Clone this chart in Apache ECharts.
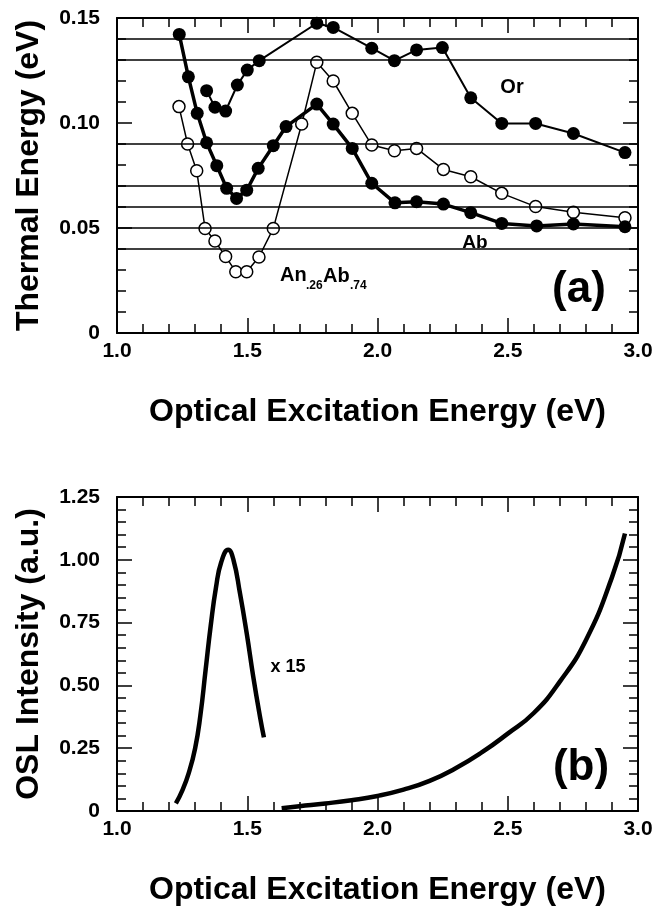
<!DOCTYPE html>
<html>
<head>
<meta charset="utf-8">
<script src="https://cdn.jsdelivr.net/npm/echarts@6/dist/echarts.min.js"></script>
<style>
  html, body { margin: 0; padding: 0; background: #fff; }
  #chart { width: 657px; height: 911px; }
</style>
</head>
<body>
<div id="chart"></div>
<script>
// thermal energy levels drawn as horizontal lines in panel (a)
const levels = [0.138, 0.129, 0.093, 0.0735, 0.061, 0.0495, 0.037];

// panel (a): [optical energy, thermal energy]
const orPoints = [[1.344, 0.1154], [1.376, 0.1075], [1.417, 0.1057], [1.462, 0.1181], [1.500, 0.1252],
  [1.546, 0.1297], [1.767, 0.1475], [1.830, 0.1455], [1.978, 0.1356], [2.065, 0.1297], [2.150, 0.1348],
  [2.249, 0.1359], [2.358, 0.112], [2.477, 0.0998], [2.607, 0.0998], [2.752, 0.095], [2.950, 0.0859]];

const abPoints = [[1.239, 0.1422], [1.274, 0.122], [1.308, 0.1046], [1.344, 0.0906], [1.383, 0.0797],
  [1.421, 0.0689], [1.459, 0.0641], [1.498, 0.068], [1.542, 0.0784], [1.600, 0.0892], [1.649, 0.0983],
  [1.767, 0.109], [1.830, 0.0995], [1.903, 0.0879], [1.978, 0.0713], [2.067, 0.062], [2.150, 0.0625],
  [2.253, 0.0614], [2.358, 0.0573], [2.477, 0.0522], [2.611, 0.051], [2.752, 0.0519], [2.950, 0.0506]];

const anPoints = [[1.238, 0.1078], [1.271, 0.09], [1.306, 0.0773], [1.338, 0.0498], [1.376, 0.0438],
  [1.417, 0.0364], [1.456, 0.0292], [1.498, 0.0292], [1.545, 0.0362], [1.600, 0.0498], [1.709, 0.0995],
  [1.767, 0.1289], [1.830, 0.12], [1.903, 0.1046], [1.978, 0.0895], [2.065, 0.0868], [2.150, 0.0879],
  [2.253, 0.0779], [2.358, 0.0744], [2.477, 0.0665], [2.607, 0.0602], [2.752, 0.0575], [2.950, 0.0549]];

// panel (b): OSL spectra
const oslPeak = [[1.226, 0.03], [1.25, 0.08], [1.275, 0.15], [1.30, 0.25], [1.32, 0.38], [1.34, 0.56],
  [1.36, 0.74], [1.38, 0.89], [1.40, 0.99], [1.427, 1.04], [1.447, 1.0], [1.472, 0.867],
  [1.498, 0.707], [1.523, 0.535], [1.549, 0.375], [1.564, 0.293]];

const oslTail = [[1.632, 0.011], [1.70, 0.019], [1.80, 0.03], [1.90, 0.043], [2.0, 0.06], [2.1, 0.085],
  [2.2, 0.12], [2.3, 0.17], [2.4, 0.233], [2.5, 0.308], [2.6, 0.39], [2.7, 0.515],
  [2.8, 0.68], [2.9, 0.93], [2.950, 1.105]];

const xTicks = [1.0, 3.0, 0.5];
const font = 'Liberation Sans, Arial, Helvetica, sans-serif';

const chart = echarts.init(document.getElementById('chart'), null, { renderer: 'canvas' });

const black = '#000';

function xAxisOf(grid, position, showLabel, name) {
  return {
    type: 'value', gridIndex: grid, position: position,
    min: xTicks[0], max: xTicks[1], interval: xTicks[2],
    name: name || '', nameLocation: 'middle', nameGap: 63,
    nameTextStyle: { fontFamily: font, fontWeight: 'bold', fontSize: 32, color: black },
    axisLine: { show: true, onZero: false, lineStyle: { color: black, width: 2 } },
    axisTick: { show: true, inside: true, length: 15, lineStyle: { color: black, width: 1.5 } },
    minorTick: { show: true, splitNumber: 5, length: 9, lineStyle: { color: black, width: 1.5 } },
    axisLabel: {
      show: showLabel, margin: 8, color: black, fontFamily: font, fontWeight: 'bold', fontSize: 21,
      formatter: v => v.toFixed(1)
    },
    splitLine: { show: false }
  };
}

function yAxisOf(grid, position, showLabel, max, interval, name) {
  return {
    type: 'value', gridIndex: grid, position: position,
    min: 0, max: max, interval: interval,
    name: name || '', nameLocation: 'middle', nameGap: 72,
    nameTextStyle: { fontFamily: font, fontWeight: 'bold', fontSize: 32, color: black },
    axisLine: { show: true, onZero: false, lineStyle: { color: black, width: 2 } },
    axisTick: { show: true, inside: true, length: 15, lineStyle: { color: black, width: 1.5 } },
    minorTick: { show: true, splitNumber: 5, length: 9, lineStyle: { color: black, width: 1.5 } },
    axisLabel: {
      show: showLabel, margin: 17, color: black, fontFamily: font, fontWeight: 'bold', fontSize: 21,
      formatter: v => (v === 0 ? '0' : v.toFixed(2))
    },
    splitLine: { show: false }
  };
}

function label(text, x, y, size) {
  return {
    type: 'text', x: x, y: y, z: 100,
    style: {
      text: text, fill: black, font: 'bold ' + size + 'px ' + font,
      textAlign: 'center', textVerticalAlign: 'middle', align: 'center', verticalAlign: 'middle'
    }
  };
}

const option = {
  backgroundColor: '#fff',
  animation: false,
  grid: [
    { left: 117, right: 19, top: 18, height: 315 },
    { left: 117, right: 19, top: 497, height: 314 }
  ],
  xAxis: [
    xAxisOf(0, 'bottom', true, 'Optical Excitation Energy (eV)'),
    xAxisOf(0, 'top', false),
    xAxisOf(1, 'bottom', true, 'Optical Excitation Energy (eV)'),
    xAxisOf(1, 'top', false)
  ],
  yAxis: [
    yAxisOf(0, 'left', true, 0.15, 0.05, 'Thermal Energy (eV)'),
    yAxisOf(0, 'right', false, 0.15, 0.05),
    yAxisOf(1, 'left', true, 1.25, 0.25, 'OSL Intensity (a.u.)'),
    yAxisOf(1, 'right', false, 1.25, 0.25)
  ],
  series: [
    {
      type: 'line', xAxisIndex: 0, yAxisIndex: 0, data: [], silent: true,
      markLine: {
        symbol: 'none', silent: true, label: { show: false },
        lineStyle: { color: black, width: 1.5, type: 'solid' },
        data: levels.map(v => ({ yAxis: v }))
      }
    },
    {
      name: 'Or', type: 'line', xAxisIndex: 0, yAxisIndex: 0, data: orPoints,
      symbol: 'circle', symbolSize: 13, itemStyle: { color: black },
      lineStyle: { color: black, width: 2 }
    },
    {
      name: 'An.26Ab.74', type: 'line', xAxisIndex: 0, yAxisIndex: 0, data: anPoints,
      symbol: 'circle', symbolSize: 12, showAllSymbol: true,
      itemStyle: { color: '#fff', borderColor: black, borderWidth: 1.5 },
      lineStyle: { color: black, width: 1.5 }
    },
    {
      name: 'Ab', type: 'line', xAxisIndex: 0, yAxisIndex: 0, data: abPoints,
      symbol: 'circle', symbolSize: 13, itemStyle: { color: black },
      lineStyle: { color: black, width: 3.5 }
    },
    {
      name: 'OSL x15', type: 'line', xAxisIndex: 2, yAxisIndex: 2, data: oslPeak,
      symbol: 'none', smooth: 0.5, lineStyle: { color: black, width: 4.5 }
    },
    {
      name: 'OSL', type: 'line', xAxisIndex: 2, yAxisIndex: 2, data: oslTail,
      symbol: 'none', smooth: 0.5, lineStyle: { color: black, width: 4.5 }
    }
  ],
  graphic: [
    label('Or', 512, 87, 20),
    label('Ab', 475, 243, 19),
    { type: 'text', x: 280, y: 275, style: { text: 'An', fill: black, font: 'bold 20px ' + font, textVerticalAlign: 'middle', verticalAlign: 'middle' } },
    { type: 'text', x: 306, y: 286, style: { text: '.26', fill: black, font: 'bold 12px ' + font, textVerticalAlign: 'middle', verticalAlign: 'middle' } },
    { type: 'text', x: 323, y: 276, style: { text: 'Ab', fill: black, font: 'bold 20px ' + font, textVerticalAlign: 'middle', verticalAlign: 'middle' } },
    { type: 'text', x: 350, y: 286, style: { text: '.74', fill: black, font: 'bold 12px ' + font, textVerticalAlign: 'middle', verticalAlign: 'middle' } },
    label('(a)', 579, 290, 44),
    label('x 15', 288, 667, 18),
    label('(b)', 581, 768, 44)
  ]
};

chart.setOption(option);
</script>
</body>
</html>
